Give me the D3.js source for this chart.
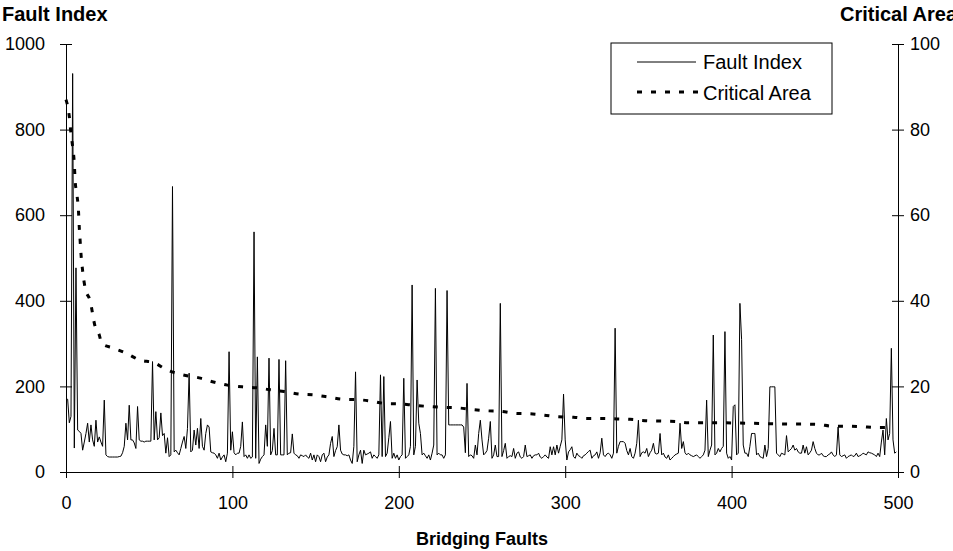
<!DOCTYPE html>
<html>
<head>
<meta charset="UTF-8">
<title>Fault Index vs Critical Area</title>
<script src="https://d3js.org/d3.v7.min.js"></script>
<style>
body { margin: 0; background: #fff; }
svg { font-family: "Liberation Sans", Arial, sans-serif; }
.axis path, .axis line { stroke: #000; }
.axis text { font-size: 18px; fill: #000; }
.title { font-weight: bold; }
</style>
</head>
<body>
<svg width="953" height="551"></svg>
<script>

// fault index, one value per bridging fault (0..499)
var faultIndex = [
  170, 170, 115, 130, 931, 56, 477, 98, 95, 90,
  51, 70, 90, 114, 70, 110, 75, 60, 121, 70,
  82, 70, 60, 168, 40, 36, 35, 35, 35, 35,
  35, 35, 36, 37, 45, 60, 114, 75, 156, 75,
  75, 68, 55, 153, 75, 72, 72, 70, 72, 72,
  72, 72, 258, 75, 141, 75, 80, 138, 85, 90,
  44, 80, 36, 40, 667, 47, 51, 45, 40, 55,
  70, 83, 55, 102, 231, 47, 51, 98, 63, 102,
  55, 125, 60, 51, 90, 110, 105, 47, 45, 44,
  40, 32, 44, 28, 35, 40, 24, 44, 281, 51,
  94, 45, 40, 44, 44, 60, 117, 36, 40, 32,
  40, 32, 35, 561, 32, 269, 20, 30, 36, 40,
  110, 60, 266, 40, 50, 102, 40, 40, 263, 40,
  40, 40, 260, 40, 44, 45, 89, 44, 40, 38,
  32, 40, 38, 36, 40, 35, 32, 44, 28, 40,
  24, 40, 36, 24, 40, 44, 24, 35, 40, 67,
  83, 36, 50, 59, 110, 51, 42, 40, 40, 38,
  40, 28, 20, 60, 234, 24, 40, 51, 20, 51,
  40, 42, 44, 47, 32, 40, 36, 32, 40, 227,
  36, 223, 36, 44, 80, 118, 32, 44, 32, 40,
  28, 36, 40, 219, 32, 36, 40, 60, 437, 40,
  60, 215, 114, 90, 40, 44, 38, 32, 40, 28,
  44, 63, 429, 40, 44, 40, 40, 32, 40, 424,
  110, 110, 110, 110, 110, 110, 110, 110, 110, 105,
  45, 207, 36, 40, 38, 32, 63, 40, 90, 121,
  75, 40, 44, 50, 79, 118, 32, 40, 63, 36,
  36, 394, 36, 50, 67, 32, 36, 38, 36, 55,
  32, 44, 47, 35, 32, 36, 63, 36, 38, 40,
  32, 38, 40, 40, 44, 35, 32, 36, 40, 35,
  32, 59, 40, 59, 40, 63, 44, 60, 75, 182,
  75, 28, 47, 52, 59, 36, 32, 44, 38, 36,
  32, 38, 40, 44, 48, 51, 32, 38, 40, 47,
  32, 45, 79, 40, 36, 42, 44, 40, 32, 44,
  336, 44, 60, 71, 71, 71, 67, 50, 40, 55,
  36, 32, 44, 67, 121, 36, 45, 47, 44, 55,
  36, 45, 51, 67, 44, 42, 44, 90, 40, 44,
  35, 32, 40, 28, 32, 36, 40, 42, 44, 114,
  55, 71, 45, 40, 44, 40, 38, 36, 38, 40,
  36, 32, 36, 40, 51, 168, 36, 51, 63, 320,
  40, 44, 55, 47, 55, 60, 328, 44, 32, 36,
  28, 153, 157, 40, 44, 394, 310, 63, 44, 44,
  36, 60, 90, 90, 90, 40, 44, 36, 34, 32,
  63, 36, 55, 199, 199, 199, 199, 44, 40, 36,
  44, 42, 40, 85, 47, 51, 55, 63, 51, 55,
  47, 44, 44, 63, 44, 59, 40, 45, 51, 71,
  55, 44, 40, 40, 44, 38, 36, 36, 40, 42,
  47, 40, 36, 40, 105, 40, 36, 38, 40, 32,
  36, 38, 40, 36, 38, 44, 36, 38, 40, 44,
  42, 40, 47, 45, 44, 42, 40, 36, 44, 36,
  70, 98, 40, 125, 75, 90, 289, 75, 44, 47
];

// critical area
var areaX = [0, 2, 3, 4, 5, 5.5, 6.5, 7.5, 8, 8.5, 9, 10, 11.5, 14.5, 17.5, 20, 21.5,
  28, 36, 44, 53, 61, 70, 80, 88, 97, 106, 114, 123, 131, 140, 149, 158, 166,
  175, 183, 192, 201, 209, 218, 227, 235, 244, 253, 261, 270, 279, 287, 296,
  305, 313, 322, 331, 339, 348, 357, 366, 374, 392, 410, 435, 443, 452, 461,
  470, 478, 487, 497];
var areaY = [87, 83, 79, 76, 72, 68, 65, 61, 57, 54, 51, 47, 43, 40, 34, 32, 30,
  29, 27.8, 26.2, 25.5, 23.8, 22.7, 22, 21.1, 20.3, 19.9, 19.7, 19.2, 18.8, 18.2, 18, 17.5, 17,
  16.9, 16.6, 16, 15.9, 15.6, 15.3, 15.1, 15, 14.6, 14.3, 14.2, 13.7, 13.6, 13.3, 12.9,
  12.8, 12.5, 12.5, 12.4, 12.3, 12, 11.9, 11.8, 11.5, 11.5, 11.4, 11.2, 11.2, 11.1, 10.7,
  10.7, 10.6, 10.4, 10.4];

var leftTicks = [0, 200, 400, 600, 800, 1000];
var rightTicks = [0, 20, 40, 60, 80, 100];
var xTicks = [0, 100, 200, 300, 400, 500];

var margin = {top: 44, right: 55, bottom: 79, left: 66},
    width = 953 - margin.left - margin.right,
    height = 551 - margin.top - margin.bottom;

var svg = d3.select("svg")
  .append("g")
    .attr("transform", "translate(" + margin.left + "," + margin.top + ")");

var x = d3.scaleLinear().domain([0, 500]).range([0, width]);
var yL = d3.scaleLinear().domain([0, 1000]).range([height, 0]);
var yR = d3.scaleLinear().domain([0, 100]).range([height, 0]);

// axes, ticks cross the axis line
svg.append("g")
    .attr("class", "axis")
    .call(d3.axisLeft(yL).tickValues(leftTicks).tickFormat(d3.format("d"))
      .tickSizeOuter(0).tickSize(6).tickPadding(15))
    .call(function(g) { g.selectAll(".tick line").attr("x1", 6); });

svg.append("g")
    .attr("class", "axis")
    .attr("transform", "translate(" + width + ",0)")
    .call(d3.axisRight(yR).tickValues(rightTicks).tickSizeOuter(0).tickSize(6).tickPadding(6))
    .call(function(g) { g.selectAll(".tick line").attr("x1", -6); });

svg.append("g")
    .attr("class", "axis")
    .attr("transform", "translate(0," + height + ")")
    .call(d3.axisBottom(x).tickValues(xTicks).tickSizeOuter(0).tickSize(6).tickPadding(18))
    .call(function(g) { g.selectAll(".tick line").attr("y1", -6); });

// fault index line
var line = d3.line()
    .x(function(d, i) { return x(i); })
    .y(function(d) { return yL(d); });

svg.append("path")
    .datum(faultIndex)
    .attr("fill", "none")
    .attr("stroke", "#000")
    .attr("stroke-width", 1)
    .attr("d", line);

// critical area dotted curve
var area = d3.line()
    .curve(d3.curveMonotoneX)
    .x(function(d) { return x(d[0]); })
    .y(function(d) { return yR(d[1]); });

svg.append("path")
    .datum(areaX.map(function(v, i) { return [v, areaY[i]]; }))
    .attr("fill", "none")
    .attr("stroke", "#000")
    .attr("stroke-width", 3)
    .attr("stroke-dasharray", "5,9")
    .attr("d", area);

// titles (right one runs off the edge, as in the original)
var root = d3.select("svg");
root.append("text").attr("class", "title").style("font-size", "20px")
    .attr("x", 2).attr("y", 21).text("Fault Index");
root.append("text").attr("class", "title").style("font-size", "20px")
    .attr("x", 840).attr("y", 21).text("Critical Area");
root.append("text").attr("class", "title").style("font-size", "18px")
    .attr("x", margin.left + width / 2).attr("y", 545)
    .attr("text-anchor", "middle").text("Bridging Faults");

// legend
var legend = root.append("g").attr("transform", "translate(611,43)");
legend.append("rect")
    .attr("width", 221).attr("height", 71)
    .attr("fill", "#fff").attr("stroke", "#000").attr("stroke-width", 1);
legend.append("line").attr("x1", 26).attr("x2", 85).attr("y1", 19).attr("y2", 19)
    .attr("stroke", "#000").attr("stroke-width", 1);
legend.append("line").attr("x1", 26).attr("x2", 89).attr("y1", 49).attr("y2", 49)
    .attr("stroke", "#000").attr("stroke-width", 3).attr("stroke-dasharray", "5,9");
legend.append("text").attr("x", 92).attr("y", 26).style("font-size", "20px").text("Fault Index");
legend.append("text").attr("x", 92).attr("y", 57).style("font-size", "20px").text("Critical Area");

</script>
</body>
</html>
